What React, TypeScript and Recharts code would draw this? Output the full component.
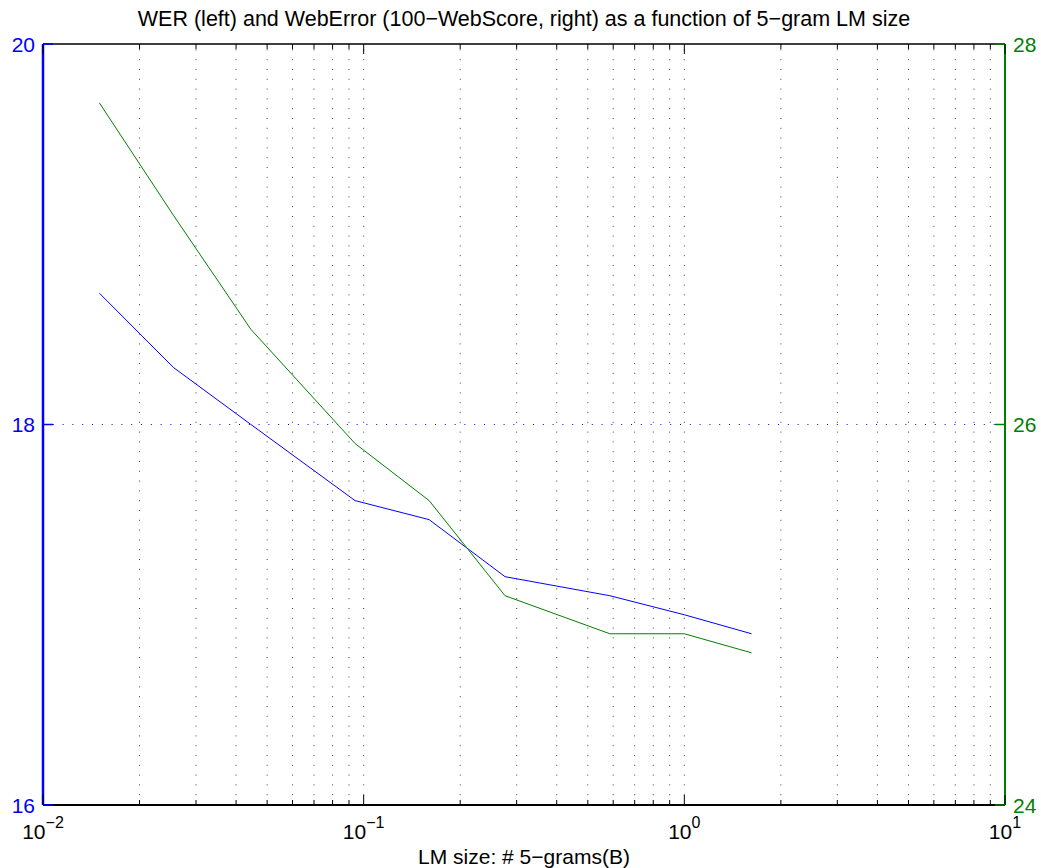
import React from 'react';
import { Line, LineChart, ReferenceLine, XAxis, YAxis } from 'recharts';

const FONT = '"Liberation Sans", Arial, Helvetica, sans-serif';
const BLUE = '#0000ff';
const GREEN = '#008000';

// LM size in billions of 5-grams
const LM_SIZES = [0.015, 0.0255, 0.0445, 0.094, 0.16, 0.276, 0.586, 1.0, 1.62];
// WER, left axis
const WER = [18.69, 18.3, 18.0, 17.6, 17.5, 17.2, 17.1, 17.0, 16.9];
// WebError = 100 - WebScore, right axis
const WEB_ERROR = [27.69, 27.1, 26.5, 25.9, 25.6, 25.1, 24.9, 24.9, 24.8];

const X_DOMAIN = [0.01, 10];
const X_MAJOR = [0.01, 0.1, 1, 10];
const X_ALL_TICKS = [
  0.01, 0.02, 0.03, 0.04, 0.05, 0.06, 0.07, 0.08, 0.09,
  0.1, 0.2, 0.3, 0.4, 0.5, 0.6, 0.7, 0.8, 0.9,
  1, 2, 3, 4, 5, 6, 7, 8, 9, 10,
];
const X_GRID = X_ALL_TICKS.filter((v) => v > 0.01 && v < 10);

const LEFT_DOMAIN = [16, 20];
const LEFT_TICKS = [16, 18, 20];
const RIGHT_DOMAIN = [24, 28];
const RIGHT_TICKS = [24, 26, 28];

const TITLE = 'WER (left) and WebError (100\u2212WebScore, right) as a function of 5\u2212gram LM size';
const X_LABEL = 'LM size: # 5\u2212grams(B)';

const chartData = LM_SIZES.map((size, i) => ({
  size,
  wer: WER[i],
  webError: WEB_ERROR[i],
}));

function isMajor(value: number): boolean {
  return X_MAJOR.some((m) => Math.abs(m - value) < 1e-9);
}

function exponentLabel(value: number): string {
  const exp = Math.round(Math.log10(value));
  return exp < 0 ? `\u2212${-exp}` : String(exp);
}

function BottomTick({ x, y, payload }: any) {
  const value = payload.value as number;
  const major = isMajor(value);
  const len = major ? 10 : 5;

  return (
    <g>
      <line x1={x} x2={x} y1={805} y2={805 - len} stroke="#000" strokeWidth={1} />
      {major && (
        <text x={x} y={839} textAnchor="middle" fontSize={21} fontFamily={FONT} fill="#000">
          10
          <tspan dy={-11} fontSize={16}>
            {exponentLabel(value)}
          </tspan>
        </text>
      )}
    </g>
  );
}

function TopTick({ x, payload }: any) {
  const len = isMajor(payload.value) ? 10 : 5;
  return <line x1={x} x2={x} y1={44} y2={44 + len} stroke="#000" strokeWidth={1} />;
}

function LeftTick({ y, payload }: any) {
  return (
    <g>
      <line x1={43} x2={53} y1={y} y2={y} stroke={BLUE} strokeWidth={1.5} />
      <text x={35} y={y + 7.5} textAnchor="end" fontSize={21} fontFamily={FONT} fill={BLUE}>
        {payload.value}
      </text>
    </g>
  );
}

function RightTick({ y, payload }: any) {
  return (
    <g>
      <line x1={1005} x2={995} y1={y} y2={y} stroke={GREEN} strokeWidth={1.5} />
      <text x={1013} y={y + 7.5} textAnchor="start" fontSize={21} fontFamily={FONT} fill={GREEN}>
        {payload.value}
      </text>
    </g>
  );
}

export default function App() {
  return (
    <div
      style={{
        position: 'absolute',
        left: 0,
        top: 0,
        width: 1041,
        height: 868,
        background: '#fff',
        fontFamily: FONT,
      }}
    >
      <div
        style={{
          position: 'absolute',
          left: 0,
          width: 1048,
          top: 9,
          textAlign: 'center',
          fontSize: 21.5,
          lineHeight: '21px',
          color: '#000',
          whiteSpace: 'nowrap',
        }}
      >
        {TITLE}
      </div>
      <div
        style={{
          position: 'absolute',
          left: 0,
          width: 1048,
          top: 846,
          textAlign: 'center',
          fontSize: 21,
          lineHeight: '21px',
          color: '#000',
          whiteSpace: 'nowrap',
        }}
      >
        {X_LABEL}
      </div>
      <LineChart
        width={1041}
        height={868}
        data={chartData}
        margin={{ top: 43, right: 35, bottom: 62, left: 42 }}
      >
        <XAxis
          dataKey="size"
          type="number"
          scale="log"
          domain={X_DOMAIN}
          allowDataOverflow
          ticks={X_ALL_TICKS}
          interval={0}
          height={1}
          tickSize={0}
          tickMargin={0}
          tickLine={false}
          axisLine={{ stroke: '#000', strokeWidth: 2 }}
          tick={<BottomTick />}
        />
        <XAxis
          xAxisId="top"
          orientation="top"
          dataKey="size"
          type="number"
          scale="log"
          domain={X_DOMAIN}
          allowDataOverflow
          ticks={X_ALL_TICKS}
          interval={0}
          height={1}
          tickSize={0}
          tickMargin={0}
          tickLine={false}
          axisLine={{ stroke: '#000', strokeWidth: 1.5 }}
          tick={<TopTick />}
        />
        <YAxis
          yAxisId="left"
          type="number"
          domain={LEFT_DOMAIN}
          ticks={LEFT_TICKS}
          interval={0}
          width={1}
          tickSize={0}
          tickMargin={0}
          tickLine={false}
          axisLine={{ stroke: BLUE, strokeWidth: 2.5 }}
          tick={<LeftTick />}
        />
        <YAxis
          yAxisId="right"
          orientation="right"
          type="number"
          domain={RIGHT_DOMAIN}
          ticks={RIGHT_TICKS}
          interval={0}
          width={1}
          tickSize={0}
          tickMargin={0}
          tickLine={false}
          axisLine={{ stroke: GREEN, strokeWidth: 2 }}
          tick={<RightTick />}
        />
        {X_GRID.map((v) => (
          <ReferenceLine
            key={v}
            x={v}
            yAxisId="left"
            stroke="#000"
            strokeWidth={1}
            strokeDasharray="1 8.8"
            strokeOpacity={0.75}
          />
        ))}
        <ReferenceLine y={18} yAxisId="left" stroke={BLUE} strokeWidth={1} strokeDasharray="1 8.8" />
        <Line
          yAxisId="left"
          type="linear"
          dataKey="wer"
          stroke={BLUE}
          strokeWidth={1}
          dot={false}
          activeDot={false}
          isAnimationActive={false}
        />
        <Line
          yAxisId="right"
          type="linear"
          dataKey="webError"
          stroke={GREEN}
          strokeWidth={1}
          dot={false}
          activeDot={false}
          isAnimationActive={false}
        />
      </LineChart>
    </div>
  );
}
